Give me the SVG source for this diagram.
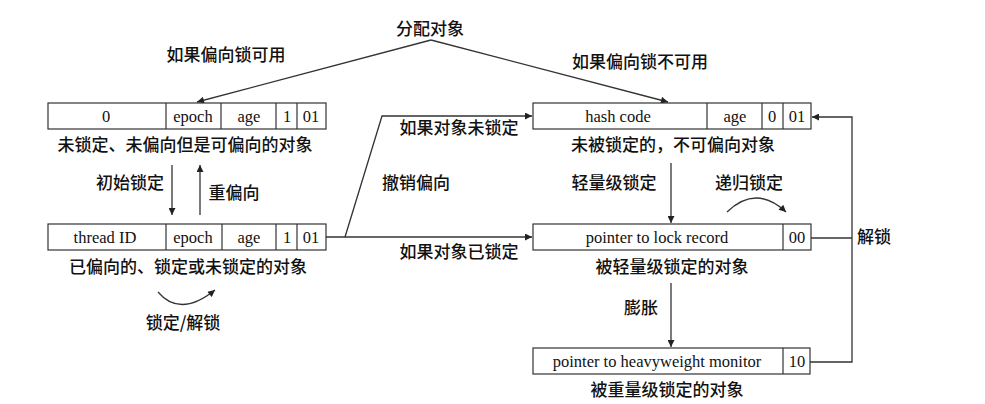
<svg xmlns="http://www.w3.org/2000/svg" width="985" height="404" viewBox="0 0 985 404">
<defs>
<marker id="ah" viewBox="0 0 10 10" refX="10" refY="5" markerWidth="9" markerHeight="7" markerUnits="userSpaceOnUse" orient="auto"><path d="M0,0 L10,5 L0,10 z" fill="#222"/></marker>
<style>
.box{fill:#fff;stroke:#333;stroke-width:1.2}
.div{stroke:#333;stroke-width:1.2}
.en{font-family:"Liberation Serif","Times New Roman",serif;font-size:16.5px;fill:#111;text-anchor:middle}
.zh{font-family:"Noto Sans CJK SC","Noto Sans",sans-serif;font-size:17px;font-weight:500;fill:#111;text-anchor:middle}
.ln{fill:none;stroke:#333;stroke-width:1.3}
</style>
</defs>
<rect width="985" height="404" fill="#fff"/>
<text class="zh" x="430" y="35">分配对象</text>
<g id="connectors">
<line class="ln" x1="431" y1="40" x2="197" y2="102" marker-end="url(#ah)"/>
<line class="ln" x1="431" y1="40" x2="668" y2="102" marker-end="url(#ah)"/>
<line class="ln" x1="172" y1="165" x2="172" y2="215" marker-end="url(#ah)"/>
<line class="ln" x1="200" y1="215" x2="200" y2="165" marker-end="url(#ah)"/>
<polyline class="ln" points="325,237 345,237 382,116 532,116" marker-end="url(#ah)"/>
<line class="ln" x1="345" y1="237" x2="532" y2="237" marker-end="url(#ah)"/>
<line class="ln" x1="671" y1="163" x2="671" y2="223" marker-end="url(#ah)"/>
<path class="ln" d="M727,212 Q756,184 786,212" marker-end="url(#ah)"/>
<line class="ln" x1="671" y1="283" x2="671" y2="347" marker-end="url(#ah)"/>
<polyline class="ln" points="811,238 852,238"/>
<polyline class="ln" points="810,362 852,362 852,117 812,117" marker-end="url(#ah)"/>
<path class="ln" d="M158,292 Q180,318 215,290" marker-end="url(#ah)"/>
</g>
<g id="labels">
<text class="zh" x="226" y="61">如果偏向锁可用</text>
<text class="zh" x="640" y="68">如果偏向锁不可用</text>
<text class="zh" x="130" y="189">初始锁定</text>
<text class="zh" x="234" y="199">重偏向</text>
<text class="zh" x="459" y="134">如果对象未锁定</text>
<text class="zh" x="416" y="189">撤销偏向</text>
<text class="zh" x="459" y="258">如果对象已锁定</text>
<text class="zh" x="614" y="189">轻量级锁定</text>
<text class="zh" x="749" y="189">递归锁定</text>
<text class="zh" x="874" y="243">解锁</text>
<text class="zh" x="641" y="314">膨胀</text>
<text class="zh" x="183" y="329">锁定/解锁</text>
</g>
<g id="node-biasable">
<rect class="box" x="48" y="103" width="278" height="26"/>
<line class="div" x1="166" y1="103" x2="166" y2="129"/>
<line class="div" x1="221" y1="103" x2="221" y2="129"/>
<line class="div" x1="276" y1="103" x2="276" y2="129"/>
<line class="div" x1="297" y1="103" x2="297" y2="129"/>
<text class="en" x="106" y="122">0</text>
<text class="en" x="193" y="122">epoch</text>
<text class="en" x="249" y="122">age</text>
<text class="en" x="287" y="122">1</text>
<text class="en" x="311" y="122">01</text>
<text class="zh" x="185" y="151">未锁定、未偏向但是可偏向的对象</text>
</g>
<g id="node-unbiasable">
<rect class="box" x="533" y="103" width="278" height="26"/>
<line class="div" x1="707" y1="103" x2="707" y2="129"/>
<line class="div" x1="762" y1="103" x2="762" y2="129"/>
<line class="div" x1="783" y1="103" x2="783" y2="129"/>
<text class="en" x="618" y="122">hash code</text>
<text class="en" x="735" y="122">age</text>
<text class="en" x="772" y="122">0</text>
<text class="en" x="797" y="122">01</text>
<text class="zh" x="673" y="151">未被锁定的，不可偏向对象</text>
</g>
<g id="node-biased">
<rect class="box" x="48" y="224" width="278" height="26"/>
<line class="div" x1="166" y1="224" x2="166" y2="250"/>
<line class="div" x1="222" y1="224" x2="222" y2="250"/>
<line class="div" x1="276" y1="224" x2="276" y2="250"/>
<line class="div" x1="297" y1="224" x2="297" y2="250"/>
<text class="en" x="105" y="243">thread ID</text>
<text class="en" x="193" y="243">epoch</text>
<text class="en" x="249" y="243">age</text>
<text class="en" x="287" y="243">1</text>
<text class="en" x="311" y="243">01</text>
<text class="zh" x="188" y="273">已偏向的、锁定或未锁定的对象</text>
</g>
<g id="node-lightweight">
<rect class="box" x="533" y="224" width="278" height="26"/>
<line class="div" x1="783" y1="224" x2="783" y2="250"/>
<text class="en" x="657" y="243">pointer to lock record</text>
<text class="en" x="797" y="243">00</text>
<text class="zh" x="672" y="273">被轻量级锁定的对象</text>
</g>
<g id="node-heavyweight">
<rect class="box" x="533" y="348" width="277" height="26"/>
<line class="div" x1="783" y1="348" x2="783" y2="374"/>
<text class="en" x="657" y="367">pointer to heavyweight monitor</text>
<text class="en" x="797" y="367">10</text>
<text class="zh" x="667" y="396">被重量级锁定的对象</text>
</g>
</svg>
